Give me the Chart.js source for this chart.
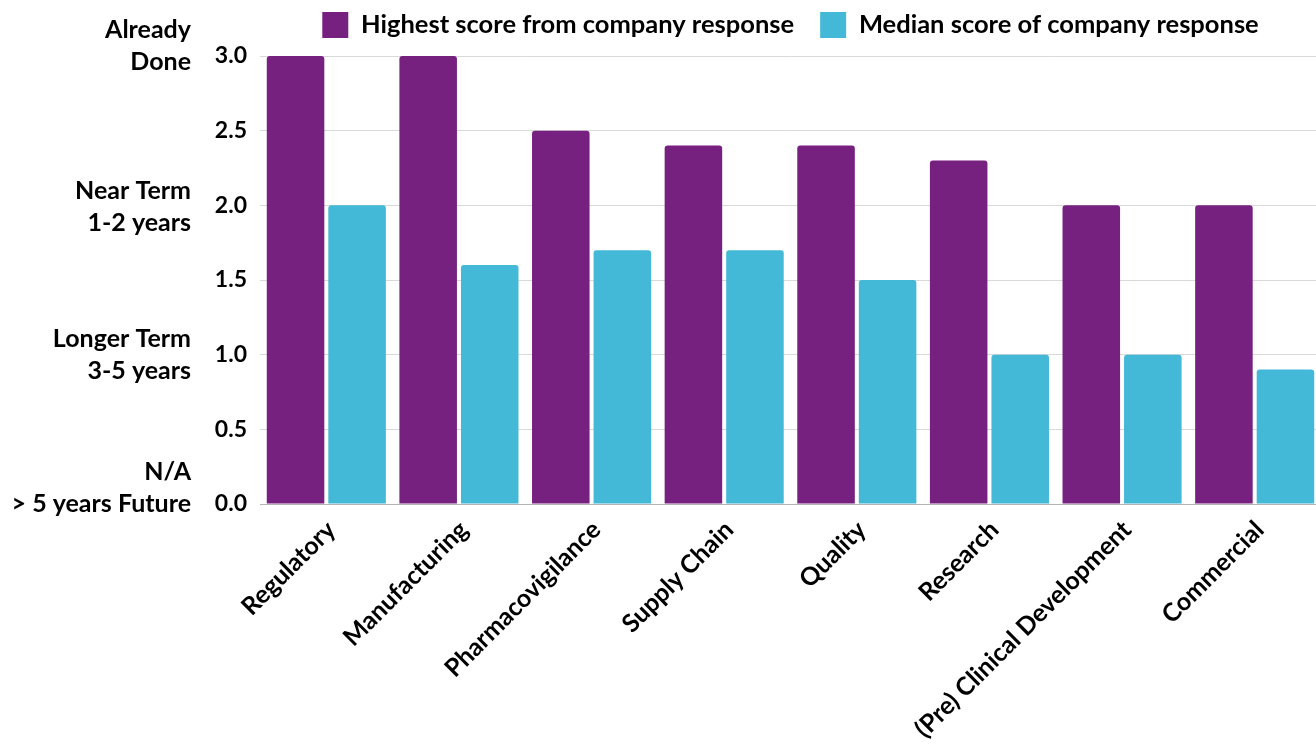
<!DOCTYPE html>
<html>
<head>
<meta charset="utf-8">
<script src="https://cdn.jsdelivr.net/npm/chart.js@4"></script>
<style>
  html, body { margin: 0; padding: 0; background: #fff; overflow: hidden; }
  #wrap { width: 1330px; height: 744px; }
</style>
</head>
<body>
<div id="wrap"><canvas id="myChart"></canvas></div>
<script>
// categories and scores
const areas = ['Regulatory', 'Manufacturing', 'Pharmacovigilance', 'Supply Chain', 'Quality', 'Research', '(Pre) Clinical Development', 'Commercial'];
const highestScores = [3.0, 3.0, 2.5, 2.4, 2.4, 2.3, 2.0, 2.0];
const medianScores = [2.0, 1.6, 1.7, 1.7, 1.5, 1.0, 1.0, 0.9];

// timeline labels on the far left axis
const termLabels = [['N/A', '> 5 years Future'], ['Longer Term', '3-5 years'], ['Near Term', '1-2 years'], ['Already', 'Done']];
const termPositions = [0.11, 1.0, 1.99, 3.07];

const fontFamily = 'Lato, "Open Sans", sans-serif';
const textFont = { family: fontFamily, size: 25, weight: 'bold' };
const legendFont = { family: fontFamily, size: 25.5, weight: 'bold' };
const numberFont = { family: fontFamily, size: 23, weight: 'bold' };

Chart.defaults.color = '#000';

// leave a little extra room between the legend and the plot
const legendGap = {
    id: 'legendGap',
    beforeInit(chart) {
        const fit = chart.legend.fit;
        chart.legend.fit = function () {
            fit.call(this);
            this.height += 8;
        };
    }
};

const ctx = document.getElementById('myChart').getContext('2d');
const myChart = new Chart(ctx, {
    type: 'bar',
    data: {
        labels: areas,
        datasets: [{
            label: 'Highest score from company response',
            data: highestScores,
            backgroundColor: '#76217f',
            borderWidth: 0,
            borderRadius: 3,
            categoryPercentage: 0.928,
            barPercentage: 0.935
        }, {
            label: 'Median score of company response',
            data: medianScores,
            backgroundColor: '#43b8d7',
            borderWidth: 0,
            borderRadius: 3,
            categoryPercentage: 0.928,
            barPercentage: 0.935
        }]
    },
    plugins: [legendGap],
    options: {
        responsive: true,
        maintainAspectRatio: false,
        animation: false,
        layout: {
            padding: { left: 0, right: 9, top: -14, bottom: 0 }
        },
        plugins: {
            tooltip: { enabled: false },
            legend: {
                position: 'top',
                fullSize: false,
                labels: {
                    font: legendFont,
                    boxWidth: 26,
                    boxHeight: 26,
                    padding: 26
                }
            }
        },
        scales: {
            x: {
                offset: true,
                grid: { display: false },
                border: { display: true, color: '#b5b5b5', width: 1 },
                ticks: {
                    font: textFont,
                    autoSkip: false,
                    maxRotation: 45,
                    minRotation: 45,
                    padding: 3,
                    labelOffset: 5
                },
                afterFit: scale => { scale.height = 240; }
            },
            y: {
                position: 'left',
                weight: 0,
                min: 0,
                max: 3,
                grid: {
                    color: ctx => ctx.tick && ctx.tick.value === 0 ? '#b5b5b5' : '#d9d9d9',
                    drawTicks: false
                },
                border: { display: false },
                ticks: {
                    stepSize: 0.5,
                    font: numberFont,
                    padding: 13,
                    callback: v => v.toFixed(1)
                },
                afterFit: scale => { scale.width = 60; }
            },
            yTerm: {
                position: 'left',
                weight: 1,
                min: 0,
                max: 3,
                grid: { display: false, drawTicks: false },
                border: { display: false },
                ticks: {
                    font: { family: fontFamily, size: 25, weight: 'bold', lineHeight: 1.28 },
                    padding: 9,
                    callback: (value, index) => termLabels[index]
                },
                afterBuildTicks: scale => {
                    scale.ticks = termPositions.map(v => ({ value: v }));
                },
                afterFit: scale => { scale.width = 200; }
            }
        }
    }
});
</script>
</body>
</html>
